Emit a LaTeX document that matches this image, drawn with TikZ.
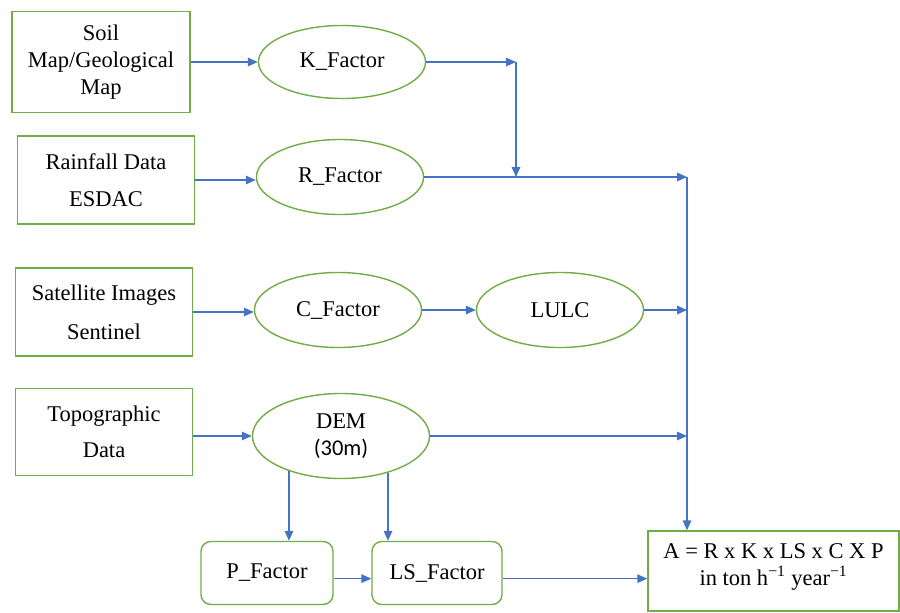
\documentclass[tikz,border=0pt]{standalone}
\usepackage{fontspec}
\setmainfont{Liberation Serif}
\newfontfamily\calibri{Carlito}
\usetikzlibrary{shapes.geometric, arrows.meta}
\definecolor{boxgreen}{RGB}{112,173,71}
\definecolor{arrowblue}{RGB}{68,114,196}

\begin{document}
\begin{tikzpicture}[x=0.025cm, y=-0.025cm, font=\fontsize{16}{19}\selectfont,
        inbox/.style={draw=boxgreen, line width=1pt, align=center, inner sep=0pt, minimum width=4.425cm, minimum height=2.2cm},
        factor/.style={ellipse, draw=boxgreen, line width=1pt, align=center, inner sep=0pt, minimum width=4.175cm, minimum height=1.875cm},
        stepbox/.style={draw=boxgreen, line width=1pt, rounded corners=7pt, inner sep=0pt, minimum width=3.3cm, minimum height=1.575cm},
        flow/.style={draw=arrowblue, line width=0.9pt, -{Triangle[length=7pt, width=6pt]}}]
            \useasboundingbox (0,0) rectangle (900,612);

            % inputs
            \node[inbox, minimum width=4.45cm, minimum height=2.525cm] (soil) at (101,62) {Soil\\Map/Geological\\Map};
            \node[inbox] (rain) at (106,180) {Rainfall Data\\[7pt]ESDAC};
            \node[inbox] (sat) at (104,312) {Satellite Images\\[9pt]Sentinel};
            \node[inbox, minimum height=2.175cm] (topo) at (104,432) {Topographic\\[7pt]Data};

            % factors
            \node[factor, minimum height=1.825cm] (kf) at (342,62) {K\_Factor};
            \node[factor] (rf) at (340,177) {R\_Factor};
            \node[factor] (cf) at (338,310) {C\_Factor};
            \node[factor] (lulc) at (560,310) {LULC};
            \node[factor, minimum width=4.425cm, minimum height=2.125cm] (dem) at (341,436) {DEM\\{\calibri (30m)}};
            \node[stepbox] (pf) at (267,573) {P\_Factor};
            \node[stepbox, minimum width=3.25cm] (ls) at (437,573) {LS\_Factor};
            \node[draw=boxgreen, line width=1pt, align=center, inner sep=0pt, minimum width=6.275cm, minimum height=2cm] (res) at (773.5,571)
                {A = R x K x LS x C X P\\in ton h\textsuperscript{−1} year\textsuperscript{−1}\\[-10pt]};

            \coordinate (kturn) at (516,62);
            \coordinate (rturn) at (687,177);

            \draw[flow] (soil) -- (kf);
            \draw[flow] (kf) -- (kturn);
            \draw[flow] (kturn) -- (kturn |- rf.east);
            \draw[flow] (rain.east) -- (rain.east -| rf.west);
            \draw[flow] (rf.east) -- (rturn);
            \draw[flow] (rturn) -- (rturn |- res.north);
            \draw[flow] (sat.east) -- (sat.east -| cf.west);
            \draw[flow] (cf) -- (lulc);
            \draw[flow] (lulc.east) -- (lulc.east -| rturn);
            \draw[flow] (topo.east |- dem) -- (dem.west);
            \draw[flow] (dem.east) -- (dem.east -| rturn);
            \draw[flow] (dem.214) -- (dem.214 |- pf.north);
            \draw[flow] (dem.322) -- (dem.322 |- ls.north);
            \draw[flow] ([yshift=-4pt]pf.east) -- ([yshift=-4pt]ls.west);
            \draw[flow] ([yshift=-4pt]ls.east) -- ([yshift=-4pt]ls.east -| res.west);
        \end{tikzpicture}
\end{document}
